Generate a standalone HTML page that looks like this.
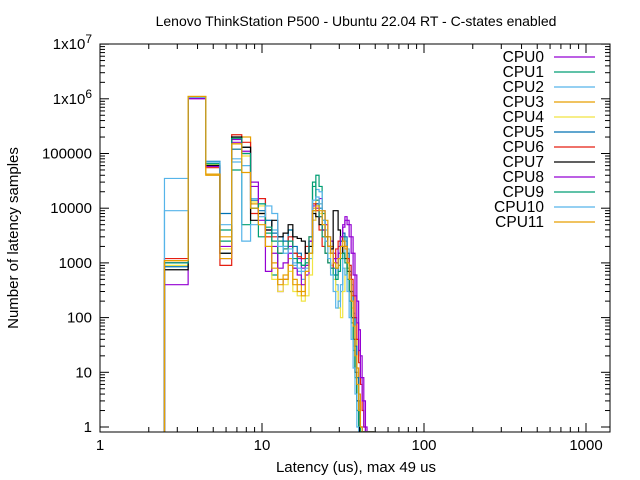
<!DOCTYPE html>
<html><head><meta charset="utf-8"><style>
body{margin:0;background:#fff;}
svg{display:block;font-family:"Liberation Sans",sans-serif;}
</style></head><body>
<svg id="chart" width="640" height="480" xmlns="http://www.w3.org/2000/svg"></svg>
<script>
const seriesNames=["CPU0","CPU1","CPU2","CPU3","CPU4","CPU5","CPU6","CPU7","CPU8","CPU9","CPU10","CPU11"];
const colors=["#9400d3","#009e73","#56b4e9","#e69f00","#f0e442","#0072b2","#e51e10","#000000","#9400d3","#009e73","#56b4e9","#e69f00"];
const firstBin=3;
// counts for latency values 3..49 us
const cpu0=[400,1000000,60000,2000,180000,110000,30000,15000,4000,2000,300,500,1500,800,1200,800,600,2500,6000,12000,15000,9000,5000,3000,2500,1500,1200,2000,3000,5000,7000,6000,5000,3000,1500,600,200,60,20,8,3,1,0,0,0,0,0];
const cpu1=[1000,1050000,65000,4000,50000,5000,10000,3000,3500,600,2500,2000,4000,1500,1000,900,1200,1500,25000,40000,25000,8000,3000,2000,1500,1000,800,1500,2500,3000,2000,800,300,100,40,10,3,1,0,0,0,0,0,0,0,0,0];
const cpu2=[35000,1050000,70000,1500,80000,60000,15000,12000,6000,4000,1500,2000,3000,1000,700,500,1000,1200,14000,22000,20000,9000,4000,3000,1800,1000,400,150,300,1200,2500,1800,900,400,120,40,10,3,1,0,0,0,0,0,0,0,0];
const cpu3=[1100,1100000,40000,3000,150000,200000,12000,8000,2000,1000,500,600,1200,500,400,300,900,2000,10000,14000,12000,9000,6000,3000,2000,1200,800,900,1500,2000,1800,1200,600,250,100,40,12,4,1,0,0,0,0,0,0,0,0];
const cpu4=[900,1080000,62000,1800,120000,90000,13000,11000,3000,500,300,400,700,300,250,200,250,600,6000,10000,8000,5000,3000,1500,900,500,300,150,100,300,800,1000,500,150,30,8,2,1,0,0,0,0,0,0,0,0,0];
const cpu5=[850,1060000,72000,8000,120000,130000,14000,9000,6000,3500,3000,2500,4000,2000,1500,1200,1500,2500,9000,12000,10000,6000,3000,2000,1500,800,600,1200,2500,3500,3000,1500,700,300,100,30,8,2,1,0,0,0,0,0,0,0,0];
const cpu6=[1200,1090000,55000,900,220000,160000,8000,15000,3000,3000,1500,1800,3000,1500,1300,1200,2000,3000,12000,9000,4000,2000,1500,1000,800,1200,1800,2500,3000,2500,2000,1200,900,500,250,100,40,15,6,2,1,0,0,0,0,0,0];
const cpu7=[750,1080000,60000,1500,200000,130000,6000,8000,4000,6000,3000,3500,5000,3000,2800,2500,1500,2000,8000,7000,5000,4000,3000,2000,1800,9000,9000,4000,2000,1500,1200,700,300,100,40,10,3,1,0,0,0,0,0,0,0,0,0];
const cpu8=[1000,1020000,58000,1200,160000,100000,25000,6000,700,1500,800,1000,2000,800,600,400,900,2500,11000,10000,7000,4000,2500,2000,1500,1200,1000,1500,3000,4500,6000,5000,3000,1500,600,250,80,25,8,3,1,0,0,0,0,0,0];
const cpu9=[1000,1070000,65000,2500,190000,100000,10000,12000,4500,2500,1500,1800,2500,1200,1000,900,1000,3000,30000,14000,7000,3000,1500,1000,800,600,500,700,1200,1500,1000,500,200,80,25,8,2,1,0,0,0,0,0,0,0,0,0];
const cpu10=[9000,1060000,70000,5000,70000,2500,5000,7000,11000,8000,2000,1500,1800,900,800,700,800,1500,14000,16000,12000,6000,2500,1200,600,300,150,200,400,800,600,300,100,40,12,4,1,0,0,0,0,0,0,0,0,0,0];
const cpu11=[1100,1100000,42000,1200,150000,45000,10000,5000,2000,800,400,500,900,400,300,250,700,1500,9000,11000,9000,5000,3000,2000,1500,1000,800,1200,2000,2500,2000,1000,500,200,70,20,6,2,1,0,0,0,0,0,0,0,0];
const allSeries=[cpu0,cpu1,cpu2,cpu3,cpu4,cpu5,cpu6,cpu7,cpu8,cpu9,cpu10,cpu11];
const xTicks=[1,10,100,1000];
const yTicks=[1,10,100,1000,10000,100000,1000000,10000000];
const yTickLabels=["1","10","100","1000","10000","100000","1x10^6","1x10^7"];

const NS="http://www.w3.org/2000/svg";
const svg=document.getElementById('chart');
const L=100,R=610,T=44,B=432;
const xs=v=>L+162*Math.log10(v);
const ys=c=>c<=0?B:Math.min(B,427-54.7*Math.log10(c));
function mk(tag,attrs,parent){const e=document.createElementNS(NS,tag);for(const k in attrs)e.setAttribute(k,attrs[k]);(parent||svg).appendChild(e);return e;}

const title=mk('text',{x:356,y:26,'text-anchor':'middle','font-size':14});


title.textContent='Lenovo ThinkStation P500 - Ubuntu 22.04 RT - C-states enabled';

const clip=mk('clipPath',{id:'pc'});mk('rect',{x:L,y:T,width:R-L,height:B-T},clip);

const plot=mk('g',{'clip-path':'url(#pc)'});


allSeries.forEach((s,si)=>{
  let d='M'+xs(firstBin-0.5)+','+B;
  s.forEach((c,i)=>{const v=firstBin+i;const y=ys(c);d+=' L'+xs(v-0.5)+','+y+' L'+xs(v+0.5)+','+y;});
  d+=' L'+xs(firstBin+s.length-0.5)+','+B;
  const p=mk('path',{d:d,fill:'none',stroke:colors[si],'stroke-width':1.2},plot);
  
  
});

const frame=mk('rect',{x:L,y:T,width:R-L,height:B-T,fill:'none',stroke:'#000','stroke-width':1});



const xaxis=mk('g',{});


xTicks.forEach((v,i)=>{
  const x=xs(v);
  mk('line',{x1:x,y1:B,x2:x,y2:B-9,stroke:'#000'},xaxis);
  mk('line',{x1:x,y1:T,x2:x,y2:T+9,stroke:'#000'},xaxis);
  const t=mk('text',{x:x,y:B+18,'text-anchor':'middle','font-size':15},xaxis);
  
  
  t.textContent=String(v);
  if(i<xTicks.length-1)for(let m=2;m<10;m++){const xm=xs(v*m);if(xm>R)break;
    mk('line',{x1:xm,y1:B,x2:xm,y2:B-5,stroke:'#000'},xaxis);mk('line',{x1:xm,y1:T,x2:xm,y2:T+5,stroke:'#000'},xaxis);}
});
const yaxis=mk('g',{});


yTicks.forEach((v,i)=>{
  const y=ys(v);
  mk('line',{x1:L,y1:y,x2:L+9,y2:y,stroke:'#000'},yaxis);
  mk('line',{x1:R,y1:y,x2:R-9,y2:y,stroke:'#000'},yaxis);
  const t=mk('text',{x:L-8,y:y+5,'text-anchor':'end','font-size':15},yaxis);
  
  
  const lab=yTickLabels[i];
  if(lab.indexOf('^')>0){const parts=lab.split('^');t.textContent=parts[0];const sp=mk('tspan',{dy:-6,'font-size':12},t);sp.textContent=parts[1];}
  else t.textContent=lab;
  if(i<yTicks.length-1)for(let m=2;m<10;m++){const ym=ys(v*m);if(ym<T)break;
    mk('line',{x1:L,y1:ym,x2:L+5,y2:ym,stroke:'#000'},yaxis);mk('line',{x1:R,y1:ym,x2:R-5,y2:ym,stroke:'#000'},yaxis);}
});
const xt=mk('text',{x:356,y:472,'text-anchor':'middle','font-size':15});


xt.textContent='Latency (us), max 49 us';
const yt=mk('text',{x:18,y:238,'text-anchor':'middle','font-size':15,transform:'rotate(-90 18 238)'});


yt.textContent='Number of latency samples';

const legend=mk('g',{});


seriesNames.forEach((n,i)=>{
  const y=57+15*i;
  const g=mk('g',{},legend);
  
  
  const t=mk('text',{x:544,y:y+5,'text-anchor':'end','font-size':15.5},g);
  t.textContent=n;
  mk('line',{x1:554,y1:y,x2:595,y2:y,stroke:colors[i],'stroke-width':1.2},g);
});
</script>
</body></html>
